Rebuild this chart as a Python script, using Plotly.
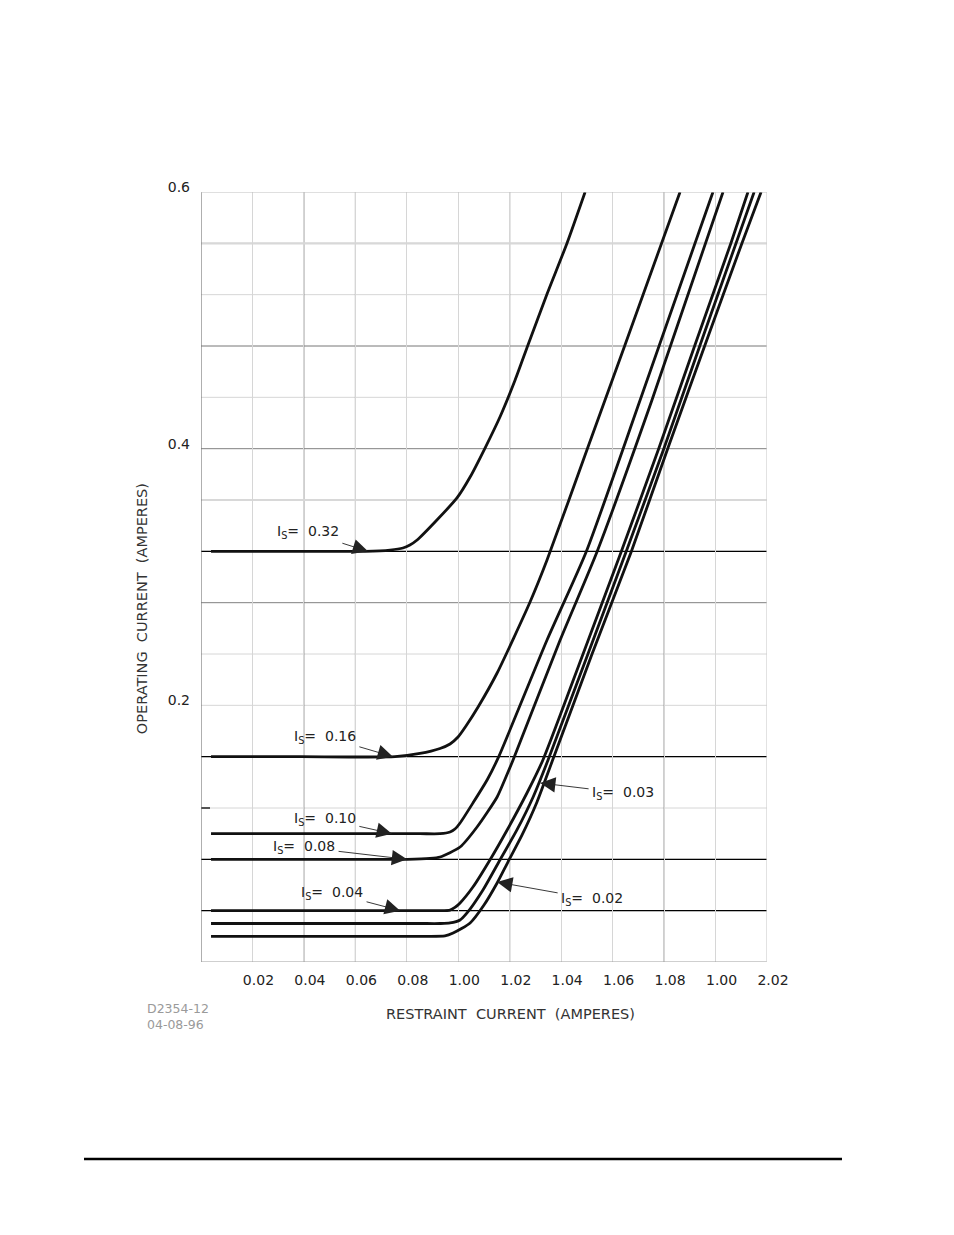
import plotly.graph_objects as go

# ---------------- data ----------------
x_tick_vals = [0.02, 0.04, 0.06, 0.08, 0.10, 0.12, 0.14, 0.16, 0.18, 0.20, 0.22]
x_tick_text = ["0.02", "0.04", "0.06", "0.08", "1.00", "1.02", "1.04", "1.06", "1.08", "1.00", "2.02"]
y_tick_vals = [0.2, 0.4, 0.6]
y_tick_text = ["0.2", "0.4", "0.6"]

is_032_x = [0.0039, 0.0385, 0.0637, 0.0735, 0.0785, 0.0812, 0.084, 0.0917, 0.0995, 0.1046, 0.1104, 0.1162, 0.1221, 0.1271, 0.1345, 0.1423, 0.1493]
is_032_y = [0.32, 0.32, 0.32, 0.321, 0.3226, 0.3249, 0.3288, 0.3444, 0.3616, 0.3779, 0.4005, 0.4247, 0.4535, 0.4808, 0.5205, 0.5603, 0.60]

is_016_x = [0.0039, 0.0385, 0.0754, 0.0851, 0.0929, 0.0968, 0.0999, 0.1030, 0.1077, 0.1151, 0.1279, 0.1345, 0.150, 0.1648, 0.1862]
is_016_y = [0.16, 0.16, 0.16, 0.1625, 0.1664, 0.1699, 0.1753, 0.1839, 0.1987, 0.2252, 0.2805, 0.3132, 0.399, 0.4808, 0.60]

is_010_x = [0.0039, 0.0385, 0.0851, 0.0929, 0.0968, 0.0987, 0.1007, 0.1057, 0.1112, 0.1155, 0.1345, 0.1497, 0.1707, 0.199]
is_010_y = [0.10, 0.10, 0.10, 0.10, 0.1013, 0.1036, 0.1083, 0.1239, 0.1418, 0.159, 0.2509, 0.3195, 0.4379, 0.60]

is_008_x = [0.0039, 0.0385, 0.0801, 0.089, 0.0929, 0.1007, 0.1073, 0.1151, 0.1182, 0.1213, 0.1396, 0.1539, 0.1753, 0.2029]
is_008_y = [0.08, 0.08, 0.08, 0.0807, 0.0818, 0.0896, 0.1052, 0.1286, 0.1426, 0.1574, 0.2509, 0.3195, 0.4379, 0.60]

is_004_x = [0.0039, 0.0385, 0.0851, 0.0929, 0.0968, 0.0987, 0.1007, 0.1057, 0.1123, 0.119, 0.1267, 0.1329, 0.1485, 0.1633, 0.178, 0.192, 0.206, 0.2126]
is_004_y = [0.04, 0.04, 0.04, 0.04, 0.0405, 0.0425, 0.046, 0.0584, 0.0795, 0.1029, 0.1317, 0.1574, 0.24, 0.3195, 0.4005, 0.4808, 0.5603, 0.60]

is_003_x = [0.0039, 0.0385, 0.0851, 0.0929, 0.0968, 0.1007, 0.1034, 0.1096, 0.1162, 0.1228, 0.1291, 0.1349, 0.1504, 0.1652, 0.180, 0.194, 0.208, 0.215]
is_003_y = [0.03, 0.03, 0.03, 0.03, 0.0304, 0.0327, 0.0382, 0.0561, 0.0795, 0.1029, 0.1286, 0.1574, 0.24, 0.3195, 0.4005, 0.4808, 0.5603, 0.60]

is_002_x = [0.0039, 0.0385, 0.0851, 0.0948, 0.098, 0.1046, 0.110, 0.1151, 0.1193, 0.1248, 0.1306, 0.1364, 0.152, 0.1672, 0.1815, 0.1959, 0.2103, 0.2177]
is_002_y = [0.02, 0.02, 0.02, 0.0203, 0.0226, 0.0304, 0.0444, 0.0616, 0.0779, 0.099, 0.1247, 0.1558, 0.24, 0.3195, 0.4005, 0.4808, 0.5603, 0.60]

curve_names = ["0.32", "0.16", "0.10", "0.08", "0.04", "0.03", "0.02"]
curves_x = [is_032_x, is_016_x, is_010_x, is_008_x, is_004_x, is_003_x, is_002_x]
curves_y = [is_032_y, is_016_y, is_010_y, is_008_y, is_004_y, is_003_y, is_002_y]

# label arrow tips (data) for each Is curve
label_tip_x = [0.0649, 0.0746, 0.0742, 0.0801, 0.0774, 0.1318, 0.1151]
label_tip_y = [0.32, 0.16, 0.10, 0.08, 0.04, 0.1395, 0.0623]

# reference horizontal lines (setting levels) and grid lines
setting_levels = [0.32, 0.16, 0.08, 0.04]
dark_grid_x = [0.04, 0.06, 0.12, 0.18]
dark_grid_y = [0.48, 0.40, 0.28]
pale_thick_y = [0.56, 0.36]
pale_grid_y = [0.04, 0.08, 0.12, 0.16, 0.20, 0.24, 0.28, 0.32, 0.36, 0.40, 0.44, 0.48, 0.52, 0.56]

# ---------------- figure ----------------
fig = go.Figure()

for cx, cy, nm in zip(curves_x, curves_y, curve_names):
    fig.add_trace(go.Scatter(x=cx, y=cy, mode="lines", name="Is=" + nm,
                             line=dict(color="#111111", width=2.8, shape="spline", smoothing=0.6),
                             showlegend=False, hoverinfo="skip"))

shapes = []
for gy in pale_grid_y:
    shapes.append(dict(type="line", xref="x", yref="y", x0=0, x1=0.22, y0=gy, y1=gy,
                       line=dict(color="#d6d6d6", width=1), layer="below"))
for gx in dark_grid_x:
    shapes.append(dict(type="line", xref="x", yref="y", x0=gx, x1=gx, y0=0, y1=0.6,
                       line=dict(color="#8a8a8a", width=1), layer="below"))
for gy in dark_grid_y:
    shapes.append(dict(type="line", xref="x", yref="y", x0=0, x1=0.22, y0=gy, y1=gy,
                       line=dict(color="#8a8a8a", width=1), layer="below"))
for gy in pale_thick_y:
    shapes.append(dict(type="line", xref="x", yref="y", x0=0, x1=0.22, y0=gy, y1=gy,
                       line=dict(color="#d8d8d8", width=2.2), layer="below"))
for lv in setting_levels:
    shapes.append(dict(type="line", xref="x", yref="y", x0=0, x1=0.22, y0=lv, y1=lv,
                       line=dict(color="#000000", width=1.2), layer="below"))
# small tick at the left edge
shapes.append(dict(type="line", xref="x", yref="y", x0=0, x1=0.0035, y0=0.12, y1=0.12,
                   line=dict(color="#000000", width=1.3)))
# plot frame: left dark, others light
shapes.append(dict(type="line", xref="x", yref="y", x0=0, x1=0, y0=0, y1=0.6,
                   line=dict(color="#7a7a7a", width=1.2)))
shapes.append(dict(type="line", xref="x", yref="y", x0=0, x1=0.22, y0=0, y1=0,
                   line=dict(color="#a0a0a0", width=1.2)))
shapes.append(dict(type="line", xref="x", yref="y", x0=0, x1=0.22, y0=0.6, y1=0.6,
                   line=dict(color="#c0c0c0", width=1.2)))
shapes.append(dict(type="line", xref="x", yref="y", x0=0.22, x1=0.22, y0=0, y1=0.6,
                   line=dict(color="#cfcfcf", width=1.2)))
# page footer rule
shapes.append(dict(type="line", xref="paper", yref="paper", x0=-0.2067, x1=1.1325,
                   y0=-0.2558, y1=-0.2558, line=dict(color="#000000", width=2.6)))

annotations = []
# label text centre offsets (px) from the arrow tip
label_ax = [-60, -68, -67, -103, -68, 83, 95]
label_ay = [-19, -20, -15, -12, -18, 10, 17]

lab_font = dict(family="DejaVu Sans, Liberation Sans, Arial", size=14, color="#222222")
for i, nm in enumerate(curve_names):
    annotations.append(dict(x=label_tip_x[i], y=label_tip_y[i], xref="x", yref="y",
                            text="I<sub>S</sub>=  " + nm, showarrow=True,
                            ax=label_ax[i], ay=label_ay[i],
                            arrowhead=2, arrowsize=3.4, arrowwidth=0.9,
                            arrowcolor="#222222", standoff=0, startstandoff=2,
                            font=lab_font))

annotations.append(dict(x=0.5477, y=-0.0675, xref="paper", yref="paper",
                        text="RESTRAINT  CURRENT  (AMPERES)", showarrow=False,
                        xanchor="center", yanchor="middle",
                        font=dict(family="DejaVu Sans, Arial", size=14.5, color="#333333")))
annotations.append(dict(x=-0.104, y=0.4584, xref="paper", yref="paper",
                        text="OPERATING  CURRENT  (AMPERES)", showarrow=False, textangle=-90,
                        xanchor="center", yanchor="middle",
                        font=dict(family="DejaVu Sans, Arial", size=14.5, color="#333333")))
annotations.append(dict(x=-0.099, y=-0.0714, xref="paper", yref="paper",
                        text="D2354-12<br>04-08-96", showarrow=False, align="left",
                        xanchor="left", yanchor="middle",
                        font=dict(family="DejaVu Sans, Arial", size=12.5, color="#9a9a9a")))

fig.update_layout(
    width=954, height=1235, autosize=False,
    margin=dict(l=201, r=187, t=192, b=273, pad=0),
    paper_bgcolor="white", plot_bgcolor="white",
    shapes=shapes, annotations=annotations,
    xaxis=dict(range=[0, 0.22], tickvals=x_tick_vals, ticktext=x_tick_text,
               showgrid=True, gridcolor="#d6d6d6", gridwidth=1,
               zeroline=False, showline=False, ticks="",
               ticklabelshift=6, ticklabelstandoff=8,
               tickfont=dict(family="DejaVu Sans, Arial", size=14, color="#222222"),
               fixedrange=True),
    yaxis=dict(range=[0, 0.6], tickvals=y_tick_vals, ticktext=y_tick_text,
               showgrid=False, zeroline=False, showline=False, ticks="",
               ticklabelshift=-5, ticklabelstandoff=10,
               tickfont=dict(family="DejaVu Sans, Arial", size=14, color="#222222"),
               fixedrange=True),
)

fig.write_html("out.html")
